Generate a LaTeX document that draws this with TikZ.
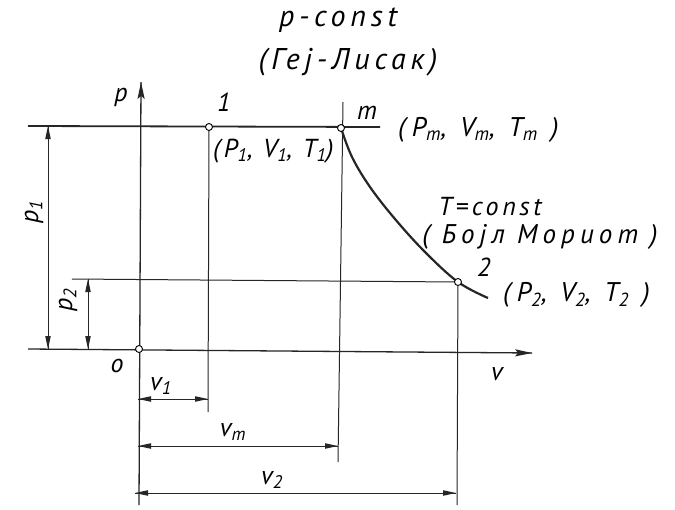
\documentclass[tikz,border=0pt]{standalone}
\usepackage{fontspec}
\setmainfont{PT Sans}
\begin{document}
\begin{tikzpicture}[x=1pt,y=-1pt,
  mainln/.style={line width=1.3pt,black!85},
  thinln/.style={line width=1pt,black!85},
  dimln/.style={line width=0.8pt,black!85},
  dotnode/.style={circle,draw,fill=white,line width=0.9pt,inner sep=0pt,minimum size=7pt},
  tipsmall/.pic={\fill[black!85] (0,0) -- (-13,-2.8) -- (-13,2.8) -- cycle;},
  tipbig/.pic={\fill[black!85] (0,0) -- (-17,-3.6) -- (-14,0) -- (-17,3.6) -- cycle;},
  lab/.style={font=\fontsize{26}{29}\selectfont\itshape\addfontfeatures{LetterSpace=14},inner sep=0pt},
  labw/.style={font=\fontsize{27}{29}\selectfont\itshape\addfontfeatures{LetterSpace=24},inner sep=0pt},
  labb/.style={font=\fontsize{27}{29}\selectfont\itshape\addfontfeatures{LetterSpace=19},inner sep=0pt},
  labt/.style={font=\fontsize{30}{33}\selectfont\itshape\addfontfeatures{LetterSpace=16},inner sep=0pt}]
\useasboundingbox (0,0) rectangle (675,509);
\fill[white] (0,0) rectangle (675,509);
% key points
\coordinate (O) at (139,349);
\coordinate (A) at (209,127);
\coordinate (M) at (341,128);
\coordinate (B) at (458,282);
\coordinate (p1L) at (28,126);
\coordinate (p1R) at (380,127);
\coordinate (p2L) at (72,279);
\coordinate (vL) at (28,349);
\coordinate (vR) at (532,353);
\coordinate (pT) at (141,82);
\coordinate (pB) at (139,505);
\coordinate (Ad) at (208,412);
\coordinate (Mt) at (343,102);
\coordinate (Md) at (338,462);
\coordinate (Bd) at (457,505);
% axes
\draw[mainln] (pB) -- (pT);
\pic[rotate=90.3] at (pT) {tipbig};
\draw[mainln] (vL) -- (vR);
\pic[rotate=-0.5] at (vR) {tipbig};
% horizontals
\draw[line width=1.8pt,black!85] (p1L) -- (p1R);
\draw[thinln] (p2L) -- (B);
% verticals
\draw[thinln] (A) -- (Ad);
\draw[thinln] (Mt) -- (Md);
\draw[thinln] (B) -- (Bd);
% isotherm
\draw[line width=2.2pt,black!85] plot[smooth,tension=0.6] coordinates {(341,128) (352,157) (370,187) (395,219) (425,252) (458,282) (488,298)};
% points
\node[dotnode] (nO) at (O) {};
\node[dotnode] (nA) at (A) {};
\node[dotnode] (nM) at (M) {};
\node[dotnode] (nB) at (B) {};
% dimension lines
\coordinate (d1a) at (48,126); \coordinate (d1b) at (48,349);
\coordinate (d2a) at (88,279); \coordinate (d2b) at (88,349);
\coordinate (v1a) at (138,399); \coordinate (v1b) at (208,399);
\coordinate (vma) at (138,446); \coordinate (vmb) at (338,446);
\coordinate (v2a) at (135,493); \coordinate (v2b) at (456,493);
\draw[dimln] (d1a) -- (d1b);
\pic[rotate=90] at (d1a) {tipsmall}; \pic[rotate=-90] at (d1b) {tipsmall};
\draw[dimln] (d2a) -- (d2b);
\pic[rotate=90] at (d2a) {tipsmall}; \pic[rotate=-90] at (d2b) {tipsmall};
\draw[dimln] (v1a) -- (v1b);
\pic[rotate=180] at (v1a) {tipsmall}; \pic at (v1b) {tipsmall};
\draw[dimln] (vma) -- (vmb);
\pic[rotate=180] at (vma) {tipsmall}; \pic at (vmb) {tipsmall};
\draw[dimln] (v2a) -- (v2b);
\pic[rotate=180] at (v2a) {tipsmall}; \pic at (v2b) {tipsmall};
% labels
\node[labt] (tp) at (338,20) {p-const};
\node[labt] (tg) at (348,62) {(Геј-Лисак)};
\node[lab] (lp) at (121,97) {p};
\node[lab] (l1) at (224,102) {1};
\node[lab] (lm) at (367,113) {m};
\node[labw,anchor=west] (lpm) at (398,130) {(P\textsubscript{m}, V\textsubscript{m}, T\textsubscript{m} )};
\node[lab,anchor=west] (lp1) at (213,151) {(P\textsubscript{1}, V\textsubscript{1}, T\textsubscript{1})};
\node[lab] (tt) at (490,207) {T=const};
\node[labb] (tb) at (540,237) {( Бојл Мориот )};
\node[lab] (l2) at (484,267) {2};
\node[labw,anchor=west] (lp2) at (503,295) {(P\textsubscript{2}, V\textsubscript{2}, T\textsubscript{2} )};
\node[lab] (lo) at (117,366) {o};
\node[lab] (lv) at (497,374) {v};
\node[lab] (lv1) at (161,386) {v\textsubscript{1}};
\node[lab] (lvm) at (233,432) {v\textsubscript{m}};
\node[lab] (lv2) at (272,480) {v\textsubscript{2}};
\node[lab,rotate=90] (lP1) at (34,212) {p\textsubscript{1}};
\node[lab,rotate=90] (lP2) at (68,300) {p\textsubscript{2}};
\end{tikzpicture}
\end{document}
